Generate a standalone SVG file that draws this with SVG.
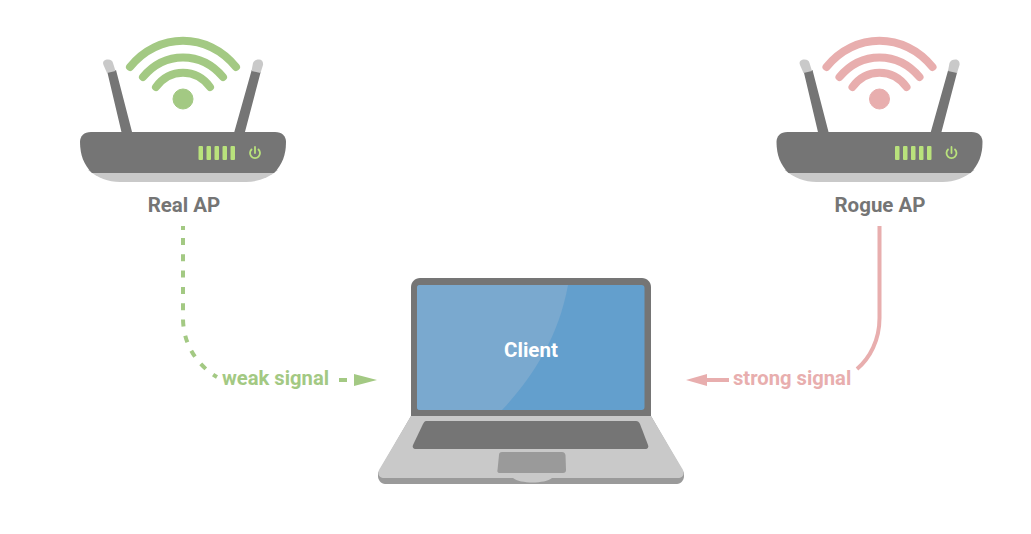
<svg xmlns="http://www.w3.org/2000/svg" width="1031" height="534" viewBox="0 0 1031 534">
<style>
text{font-family:Roboto,"Liberation Sans",sans-serif}
.lbl{font-weight:700;font-size:20.500px;fill:#757575;text-anchor:middle}
.sig{font-weight:700;font-size:20.200px}
.arc{fill:none;stroke-width:8;stroke-linecap:round}
.dk{fill:#757575}
.lt{fill:#c9c9c9}
.led{fill:#b9e27c}
</style>
<defs>
<g id="router">
<path class="lt" d="M88 170H278C268 178 258 182 246 182H120C108 182 98 178 88 170Z"/>
<path class="dk" d="M121.700 133L107.300 72L116 70L132.300 133ZM234 133L251.700 70L260.700 72L244.700 133Z"/>
<path class="lt" d="M103.500 65C102 61 105 59.500 108 59.500C111 59.500 112.500 61 113 63L115.500 71L107 73Z"/>
<path class="lt" d="M253 63C254 60.500 256 59.500 259 59.500C262 59.500 263.500 62 263 65L260.500 73L251.500 71Z"/>
<path class="dk" d="M91 132H275C282 132 286 136 286 142C286 155 282 165 274 173H92C84 165 80 155 80 142C80 136 84 132 91 132Z"/>
<rect class="led" x="198.500" y="146" width="4.500" height="14" rx="1"/>
<rect class="led" x="206.500" y="146" width="4.500" height="14" rx="1"/>
<rect class="led" x="214.500" y="146" width="4.500" height="14" rx="1"/>
<rect class="led" x="222.500" y="146" width="4.500" height="14" rx="1"/>
<rect class="led" x="230.500" y="146" width="4.500" height="14" rx="1"/>
<path d="M251.500 149.500A5 5 0 1 0 258.500 149.500M255 147V153" fill="none" stroke="#b9e27c" stroke-width="1.800" stroke-linecap="round"/>
</g>
<g id="wifi">
<path class="arc" d="M130 67C158 32 208 32 236 67"/>
<path class="arc" d="M143 77C165 51 201 51 223 77"/>
<path class="arc" d="M156 87C170 68 196 68 210 87"/>
<circle cx="183" cy="99" r="10"/>
</g>
</defs>
<rect width="1031" height="534" fill="#fff"/>

<g id="real-ap">
<use href="#router"/>
<use href="#wifi" stroke="#a3c983" fill="#a3c983"/>
<text class="lbl" x="184" y="212">Real AP</text>
</g>

<g id="rogue-ap">
<use href="#router" x="696.500"/>
<use href="#wifi" x="696.500" stroke="#e8aeae" fill="#e8aeae"/>
<text class="lbl" x="880" y="212">Rogue AP</text>
</g>

<g id="client">
<path class="dk" d="M420 278H642C647 278 651 282 651 287V418H411V287C411 282 415 278 420 278Z"/>
<rect x="417" y="285" width="227.500" height="125" rx="3" fill="#639fcd"/>
<path d="M420 285H568C558 340 530 380 502 410H420C418 410 417 409 417 407V288C417 286 418 285 420 285Z" fill="#7aa9cf"/>
<path d="M411 416H651L684 473V476C684 480 681 484 677 484H385C381 484 378 480 378 476V473Z" fill="#9a9a9a"/>
<path d="M411 416H651L683 470C685 475 682 478 678 478H384C380 478 377 475 379 470Z" class="lt"/>
<path d="M513 478H552C545 484 520 484 513 478Z" class="lt"/>
<path class="dk" d="M426 421H636C638 421 639 422 640 424L648 445C649 448 647 449 645 449H416C414 449 412 448 413 445L423 424C424 422 425 421 426 421Z"/>
<path d="M502 452H562C564 452 565 453 565.500 455L566 470C566 472 565 473 563 473H500C498 473 497 472 497.500 470L499 455C499 453 500 452 502 452Z" fill="#9a9a9a"/>
<text x="531" y="357" font-size="20.500" font-weight="700" fill="#fff" text-anchor="middle">Client</text>
</g>

<g id="connectors">
<path d="M183 226V318C183 345 198 366 217 377" fill="none" stroke="#a3c983" stroke-width="4" stroke-dasharray="4 8 7 9.300 7 9.300 7 9.300 7 9.300 7 9.300 7 9.300 7 9.300 7 9.300 7 9.300 7 300"/>
<path d="M339 380H347" fill="none" stroke="#a3c983" stroke-width="4"/>
<path d="M354 374L377 380L354 386Z" fill="#a3c983"/>
<path d="M879.500 226V318C879.500 340 870 358 857 369" fill="none" stroke="#e8aeae" stroke-width="4"/>
<path d="M707 380H729" fill="none" stroke="#e8aeae" stroke-width="4"/>
<path d="M686 380L707 374V386Z" fill="#e8aeae"/>
<text class="sig" x="222" y="385" fill="#a3c983">weak signal</text>
<text class="sig" x="733" y="385" fill="#e8aeae">strong signal</text>
</g>
</svg>
